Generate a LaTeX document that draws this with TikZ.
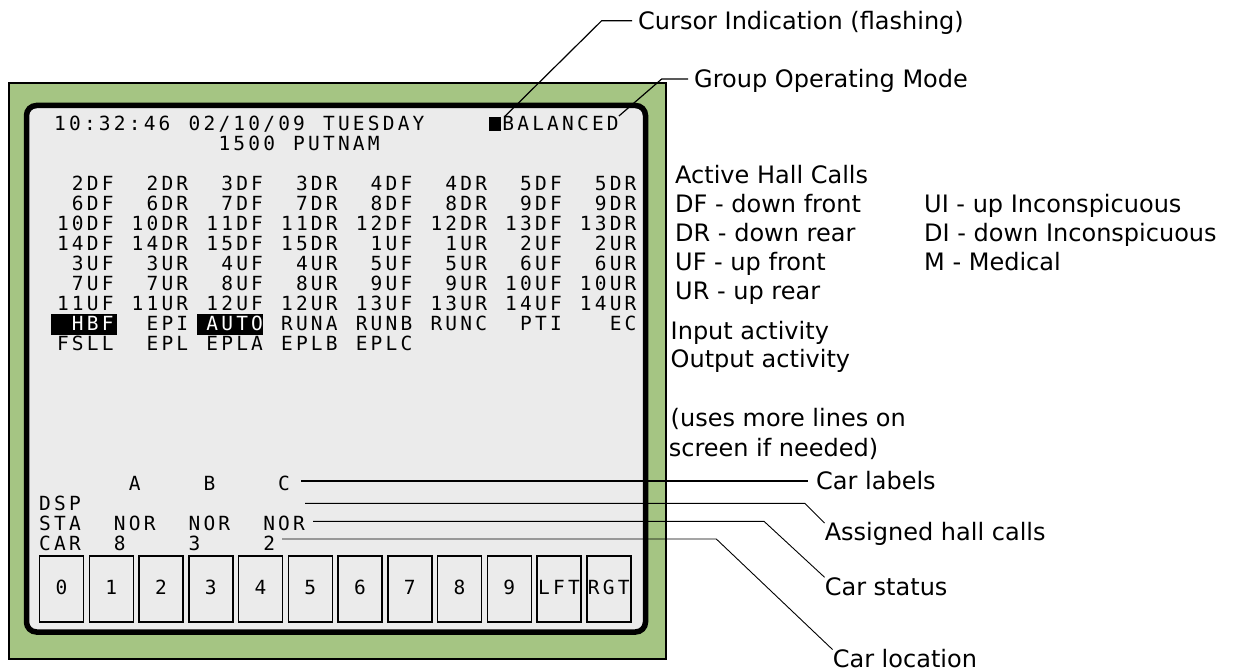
\documentclass[tikz,border=0pt]{standalone}
\usepackage{fontspec}
\setmainfont{DejaVu Sans}
\newfontfamily\ecran[LetterSpace=16.4]{DejaVu Sans Mono}
\definecolor{vert}{RGB}{165,197,131}
\definecolor{fond}{RGB}{235,235,235}
\tikzset{
  txt/.style={font=\ecran\fontsize{19.5}{20}\selectfont, inner sep=0pt, anchor=base west},
  txtd/.style={txt, anchor=base east},
  lbl/.style={font=\fontsize{24}{28}\selectfont, inner sep=0pt, text height=17.5pt, text depth=0pt, anchor=base west},
  touche/.style={draw, line width=1.5pt, fill=fond, minimum width=44pt, minimum height=66pt, inner sep=0pt,
    text height=14pt, text depth=4pt, font=\ecran\fontsize{19.5}{20}\selectfont},
  renvoi/.style={line width=0.9pt},
}

\begin{document}
\begin{tikzpicture}[x=1pt,y=-1pt]
  % Variables
  \def\pas{14.94} % largeur d'un caractère
  \def\xg{54} % marge gauche du texte
  \def\xb{39} % marge gauche des lignes du bas
  \def\yb{130.7} % ligne de base de la première ligne
  \def\dl{20} % interligne

  \useasboundingbox (0,0) rectangle (1235,671);

  % Cadre vert et écran
  \draw[fill=vert, line width=2pt] (9,83) rectangle (666,659);
  \draw[fill=fond, line width=5.5pt, rounded corners=10pt] (26.5,105.5) rectangle (645.5,632);

  % En-tête
  \node[txt] (heure) at (\xg,\yb) {10:32:46};
  \node[txt] (date) at (\xg+9*\pas,\yb) {02/10/09};
  \node[txt] (jour) at (\xg+18*\pas,\yb) {TUESDAY};
  \node[fill=black, inner sep=0pt, minimum width=12.5pt, minimum height=14pt] (curseur) at (495,124) {};
  \node[txt] (mode) at (\xg+30*\pas,\yb) {BALANCED};
  \node[txt] (num) at (\xg+11*\pas,\yb+\dl) {1500};
  \node[txt] (rue) at (\xg+16*\pas,\yb+\dl) {PUTNAM};

  % Appels palier actifs
  \foreach \n/\rang in {3/{2DF,2DR,3DF,3DR,4DF,4DR,5DF,5DR},
                        4/{6DF,6DR,7DF,7DR,8DF,8DR,9DF,9DR},
                        5/{10DF,10DR,11DF,11DR,12DF,12DR,13DF,13DR},
                        6/{14DF,14DR,15DF,15DR,1UF,1UR,2UF,2UR},
                        7/{3UF,3UR,4UF,4UR,5UF,5UR,6UF,6UR},
                        8/{7UF,7UR,8UF,8UR,9UF,9UR,10UF,10UR},
                        9/{11UF,11UR,12UF,12UR,13UF,13UR,14UF,14UR},
                        11/{FSLL,EPL,EPLA,EPLB,EPLC}}
    \foreach \e [count=\c from 0] in \rang
      \node[txtd] (a-\n-\c) at (\xg+5*\c*\pas+4*\pas,\yb+\n*\dl) {\e};

  % Entrées (HBF et AUTO en vidéo inverse)
  \fill (51,314) rectangle (117,335);
  \fill (197,314) rectangle (263,335);
  \foreach \e/\coul [count=\c from 0] in {HBF/white,EPI/black,AUTO/white,RUNA/black,
                                          RUNB/black,RUNC/black,PTI/black,EC/black}
    \node[txtd, text=\coul] (a-10-\c) at (\xg+5*\c*\pas+4*\pas,\yb+10*\dl) {\e};

  % Cabines
  \node[txt] (carA) at (\xb+6*\pas,\yb+18*\dl) {A};
  \node[txt] (carB) at (\xb+11*\pas,\yb+18*\dl) {B};
  \node[txt] (carC) at (\xb+16*\pas,\yb+18*\dl) {C};
  \node[txt] (dsp) at (\xb,\yb+19*\dl) {DSP};
  \node[txt] (sta) at (\xb,\yb+20*\dl) {STA};
  \node[txt] (car) at (\xb,\yb+21*\dl) {CAR};
  \foreach \pos/\k [count=\i] in {8/5,3/10,2/15} {
    \node[txt] (etat\i) at (\xb+\k*\pas,\yb+20*\dl) {NOR};
    \node[txt] (pos\i) at (\xb+\k*\pas,\yb+21*\dl) {\pos};
  }

  % Touches
  \foreach \t [count=\i from 0] in {0,1,2,3,4,5,6,7,8,9,LFT,RGT}
    \node[touche] (t\i) at (61.5+\i*49.75,589) {\t};

  % Légende à droite
  \node[lbl] (actifs) at (675,183.3) {Active Hall Calls};
  \foreach \t [count=\i] in {DF - down front,DR - down rear,UF - up front,UR - up rear}
    \node[lbl] (code\i) at (675,183.3+\i*29) {\t};
  \foreach \t [count=\i] in {UI - up Inconspicuous,DI - down Inconspicuous,M - Medical}
    \node[lbl] (codeb\i) at (924,183.3+\i*29) {\t};
  \node[lbl] (entrees) at (670.5,339) {Input activity};
  \node[lbl] (sorties) at (670.5,367.7) {Output activity};
  \node[lbl] (suite1) at (670.5,426.7) {(uses more lines on};
  \node[lbl] (suite2) at (668.6,456) {screen if needed)};

  % Renvois
  \node[lbl, anchor=west] (l-curseur) at (638,20.7) {Cursor Indication (flashing)};
  \node[lbl, anchor=west] (l-mode) at (694,79) {Group Operating Mode};
  \node[lbl, anchor=west] (l-etiq) at (816,481) {Car labels};
  \node[lbl] (l-affect) at (824.6,540.7) {Assigned hall calls};
  \node[lbl] (l-etat) at (824.6,595) {Car status};
  \node[lbl] (l-pos) at (832.6,667.3) {Car location};

  \coordinate (d-etiq) at (301,481);
  \coordinate (d-affect) at (305,503.3);
  \coordinate (d-etat) at (313,521.3);
  \coordinate (d-pos) at (282,539);

  \draw[renvoi, line width=1.2pt] ([xshift=3pt]curseur.north east) -- (601.7,20.7) -- ([xshift=-6pt]l-curseur.west);
  \draw[renvoi, line width=1.2pt] (mode.north east) -- (661.7,79) -- ([xshift=-6pt]l-mode.west);
  \draw[line width=2pt] (d-etiq) -- ([xshift=-8pt]l-etiq.west);
  \draw[renvoi] (d-affect) -- (804.8,503.3) -- (l-affect.north west);
  \draw[renvoi] (d-etat) -- (764,521.3) -- (l-etat.north west);
  \draw[renvoi] (d-pos) -- (716.3,539) -- (l-pos.north west);
\end{tikzpicture}
\end{document}
